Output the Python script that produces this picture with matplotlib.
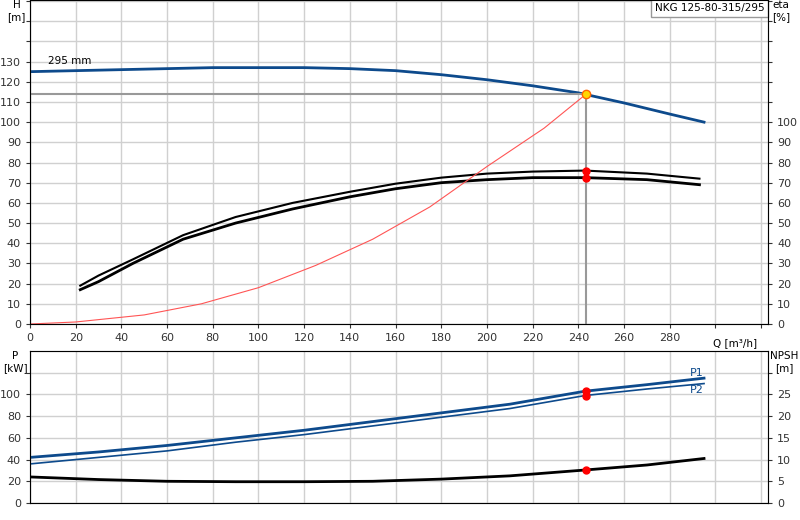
import matplotlib
matplotlib.use("Agg")
import matplotlib.pyplot as plt
import numpy as np

q_h = [0, 20, 40, 60, 80, 100, 120, 140, 160, 180, 200, 220, 240, 260, 280, 295]
h = [125, 125.5, 126, 126.5, 127, 127, 127, 126.5, 125.5, 123.5, 121, 118, 114.5, 109.5, 104, 100]
q_eta = [22, 30, 45, 67, 90, 115, 140, 160, 180, 200, 220, 243, 270, 293]
eta_lo = [17, 21, 30, 42, 50, 57, 63, 67, 70, 71.5, 72.5, 72.5, 71.5, 69]
eta_hi = [19, 24, 32, 44, 53, 60, 65.5, 69.5, 72.5, 74.5, 75.5, 76, 74.5, 72]
q_sys = [0, 20, 50, 75, 100, 125, 150, 175, 200, 225, 243.5]
h_sys = [0, 1, 4.5, 10, 18, 29, 42, 58, 78, 97, 114]
q_p = [0, 30, 60, 90, 120, 150, 180, 210, 243, 270, 295]
p1 = [42, 47, 53, 60, 67, 75, 83, 91, 103, 109, 115]
p2 = [36, 42, 48, 56, 63, 71, 79, 87, 99, 105, 110]
npsh = [6.0, 5.4, 5.0, 4.9, 4.9, 5.0, 5.5, 6.25, 7.6, 8.75, 10.25]
q_op, h_op = 243.5, 114
eta_op = [72.5, 76]
p_op = [103, 99]
npsh_op = 7.6

fig = plt.figure(figsize=(8, 5.2), dpi=100)
W, H = 800, 520
ax = fig.add_axes([30/W, 1-324/H, 738/W, 324/H])
bx = fig.add_axes([30/W, 1-503/H, 738/W, 152/H])
for a in (ax, bx):
    a.set_xlim(0, 323)
    a.set_xticks(np.arange(0, 321, 20))
    a.grid(True, color='#d0d0d0', lw=1)
    a.set_axisbelow(True)
    for s in a.spines.values():
        s.set_color('#999999')
    a.tick_params(labelsize=8, length=3, colors='#333333')
ax.set_ylim(0, 160.5)
ax.set_yticks(np.arange(0, 161, 10))
ax.set_yticklabels([str(v) if v <= 130 else '' for v in range(0, 161, 10)])
ax.set_xticklabels([str(v) if v <= 280 else '' for v in range(0, 321, 20)])
ax2 = ax.twinx()
ax2.set_ylim(0, 160.5)
ax2.set_yticks(np.arange(0, 161, 10))
ax2.set_yticklabels([str(v) if v <= 100 else '' for v in range(0, 161, 10)])
ax2.tick_params(labelsize=8, length=3, colors='#333333')

ax.plot(q_h, h, color='#0d4a8c', lw=2)
ax.plot(q_eta, eta_lo, color='black', lw=2)
ax.plot(q_eta, eta_hi, color='black', lw=1.5)
ax.plot(q_sys, h_sys, color='#ff5555', lw=0.8)
ax.plot([0, q_op], [h_op, h_op], color='#999999', lw=1.5)
ax.plot([q_op, q_op], [0, h_op], color='#999999', lw=1.5)
ax.plot(q_op, h_op, 'o', ms=6, mfc='#ffd700', mec='#ff6600')
ax.plot([q_op]*2, eta_op, 'o', ms=5, color='red')
ax.text(8, 129, '295 mm', fontsize=7.5)
ax.text(-0.018, 1.0, 'H\n[m]', transform=ax.transAxes, ha='center', va='top', fontsize=7.5)
ax.text(1.018, 1.0, 'eta\n[%]', transform=ax.transAxes, ha='center', va='top', fontsize=7.5)
ax.text(0.955, -0.045, 'Q [m³/h]', transform=ax.transAxes, ha='center', va='top', fontsize=7.5)
ax.text(0.995, 0.99, 'NKG 125-80-315/295', transform=ax.transAxes, ha='right', va='top', fontsize=7.5,
        bbox=dict(facecolor='white', edgecolor='#999999', pad=3))

bx.set_ylim(0, 140)
bx.set_yticks(np.arange(0, 121, 20))
bx.set_yticklabels(['0', '20', '40', '60', '80', '100', ''])
bx.set_xticklabels([])
bx.tick_params(axis='x', length=0)
bx2 = bx.twinx()
bx2.set_ylim(0, 35)
bx2.set_yticks(np.arange(0, 31, 5))
bx2.set_yticklabels(['0', '5', '10', '15', '20', '25', ''])
bx2.tick_params(labelsize=8, length=3, colors='#333333')
bx.plot(q_p, p1, color='#0d4a8c', lw=2)
bx.plot(q_p, p2, color='#0d4a8c', lw=1.2)
bx2.plot(q_p, npsh, color='black', lw=2)
bx.plot([q_op]*2, p_op, 'o', ms=5, color='red')
bx2.plot(q_op, npsh_op, 'o', ms=5, color='red')
bx.text(289, 117, 'P1', color='#0d4a8c', fontsize=8)
bx.text(289, 101, 'P2', color='#0d4a8c', fontsize=8)
bx.text(-0.02, 1.0, 'P\n[kW]', transform=bx.transAxes, ha='center', va='top', fontsize=7.5)
bx.text(1.022, 1.0, 'NPSH\n[m]', transform=bx.transAxes, ha='center', va='top', fontsize=7.5)
fig.savefig('out.png', dpi=100)
